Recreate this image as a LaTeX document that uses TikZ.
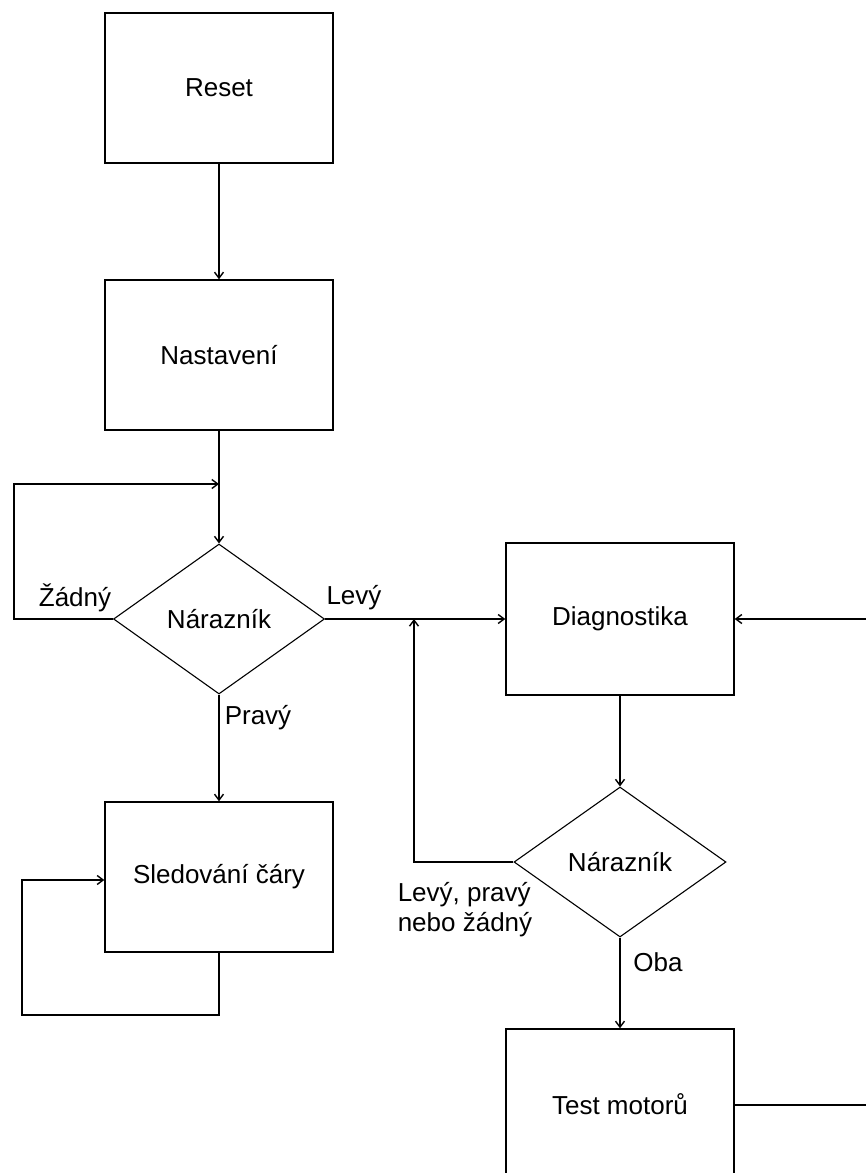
\documentclass[tikz,border=0pt]{standalone}
\usepackage{fontspec}
\setmainfont{Liberation Sans}
\usetikzlibrary{shapes.geometric,arrows.meta,calc}

\begin{document}
\begin{tikzpicture}[x=1pt,y=-1pt, line width=1.4pt,
  every node/.style={font=\fontsize{26}{30}\selectfont},
  krok/.style={draw, shape=rectangle, minimum width=228pt, minimum height=150pt, inner sep=0pt},
  dotaz/.style={draw, shape=diamond, minimum width=211pt, minimum height=150pt, inner sep=0pt, line width=1.1pt},
  >={Straight Barb[length=6pt,width=9pt]}]
\clip (0,0) rectangle (866,1173);
\fill[white] (0,0) rectangle (866,1173);
% kroky
\node[krok] (reset) at (219,88) {Reset};
\node[krok] (nast) at (219,355) {Nastavení};
\node[dotaz] (nar1) at (219,619) {Nárazník};
\node[krok] (sled) at (219,877) {Sledování čáry};
\node[krok, minimum height=152pt] (diag) at (620,619) {Diagnostika};
\node[dotaz, minimum width=212pt] (nar2) at (620,862) {Nárazník};
\node[krok] (test) at (620,1104) {Test motorů};
% volne konce
\coordinate (zadL) at (14,484);
\coordinate (sledL) at (22,1015);
\coordinate (backJ) at (414,619);
\coordinate (diagR) at (866,619);
\coordinate (testR) at (866,1105);
% spoje
\draw[->] (reset) -- (nast);
\draw[->] (nast) -- (nar1);
\draw[->] (nar1.west) -| (zadL) -- (zadL -| nar1.north);
\draw[->] (nar1.east) -- (diag.west);
\draw[->] (nar1.south) -- (sled.north);
\draw[->] (sled.south) |- (sledL) |- ($(sled.west)+(0,3)$);
\draw[->] (diagR) -- (diag.east);
\draw[->] (diag) -- (nar2);
\draw[->] (nar2.west) -| (backJ);
\draw[->] (nar2.south) -- (test.north);
\draw (test.east |- testR) -- (testR);
% popisky
\node (zadny) at (75,598) {Žádný};
\node (levy) at (354,598) {Levý};
\node (pravy) at (258,718) {Pravý};
\node[align=left, inner sep=0pt] (ostatni) at (465,910) {Levý, pravý\\nebo žádný};
\node (oba) at (658,962) {Oba};
\end{tikzpicture}
\end{document}
